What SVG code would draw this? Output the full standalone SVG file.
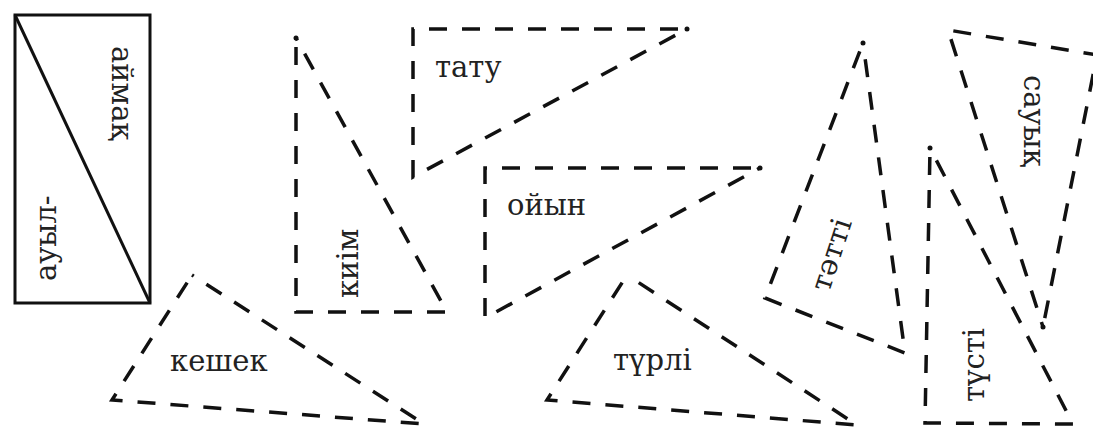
<svg xmlns="http://www.w3.org/2000/svg" width="1093" height="427" viewBox="0 0 1093 427">
<style>
.bg{fill:#ffffff}
.tri{fill:none;stroke:#111;stroke-width:3.5;stroke-dasharray:18 15;stroke-dashoffset:24;stroke-linejoin:miter;stroke-miterlimit:10}
.dot{fill:#111}
.solid{fill:none;stroke:#111;stroke-width:3}
.lbl{font-family:'DejaVu Serif','Liberation Serif',serif;font-size:29px;fill:#222}
</style>
<rect class="bg" x="0" y="0" width="1093" height="427"/>
<g id="node-auyl-aimak">
<rect class="solid" x="15" y="15" width="135" height="288"/>
<line class="solid" x1="15" y1="15" x2="150" y2="303"/>
<text class="lbl" transform="translate(112,46) rotate(90)">аймақ</text>
<text class="lbl" transform="translate(56,281) rotate(-90)">ауыл-</text>
</g>
<g id="node-kiim">
<path class="tri" d="M296,38 L296,312 L447,312 Z"/>
<circle class="dot" cx="296" cy="38" r="2.5"/>
<text class="lbl" transform="translate(358,298) rotate(-90)">киім</text>
</g>
<g id="node-tatu">
<path class="tri" d="M687,29 L413,29 L413,177 Z"/>
<circle class="dot" cx="687" cy="29" r="2.5"/>
<text class="lbl" x="435" y="77">тату</text>
</g>
<g id="node-oiyn">
<path class="tri" d="M760,168 L485,168 L485,318 Z"/>
<circle class="dot" cx="760" cy="168" r="2.5"/>
<text class="lbl" x="507" y="215">ойын</text>
</g>
<g id="node-keshek">
<path class="tri" d="M192,275 L112,400 L424,424 Z"/>
<text class="lbl" x="170" y="371">кешек</text>
</g>
<g id="node-turli">
<path class="tri" d="M627,275 L547,400 L857,425 Z"/>
<text class="lbl" x="613" y="370">түрлі</text>
</g>
<g id="node-tatti">
<path class="tri" d="M863,43 L765,298 L905,353 Z"/>
<circle class="dot" cx="863" cy="43" r="2.5"/>
<text class="lbl" transform="translate(829,293) rotate(-72)">тәтті</text>
</g>
<g id="node-sauyk">
<path class="tri" d="M1043,327 L1097,55 L948,30 Z"/>
<circle class="dot" cx="1043" cy="327" r="2.5"/>
<text class="lbl" transform="translate(1024,75) rotate(90)">сауық</text>
</g>
<g id="node-tusti">
<path class="tri" d="M930,148 L925,423 L1073,424 Z"/>
<circle class="dot" cx="930" cy="148" r="2.5"/>
<text class="lbl" transform="translate(984,402) rotate(-90)">түсті</text>
</g>
<g id="connectors"></g>
</svg>
